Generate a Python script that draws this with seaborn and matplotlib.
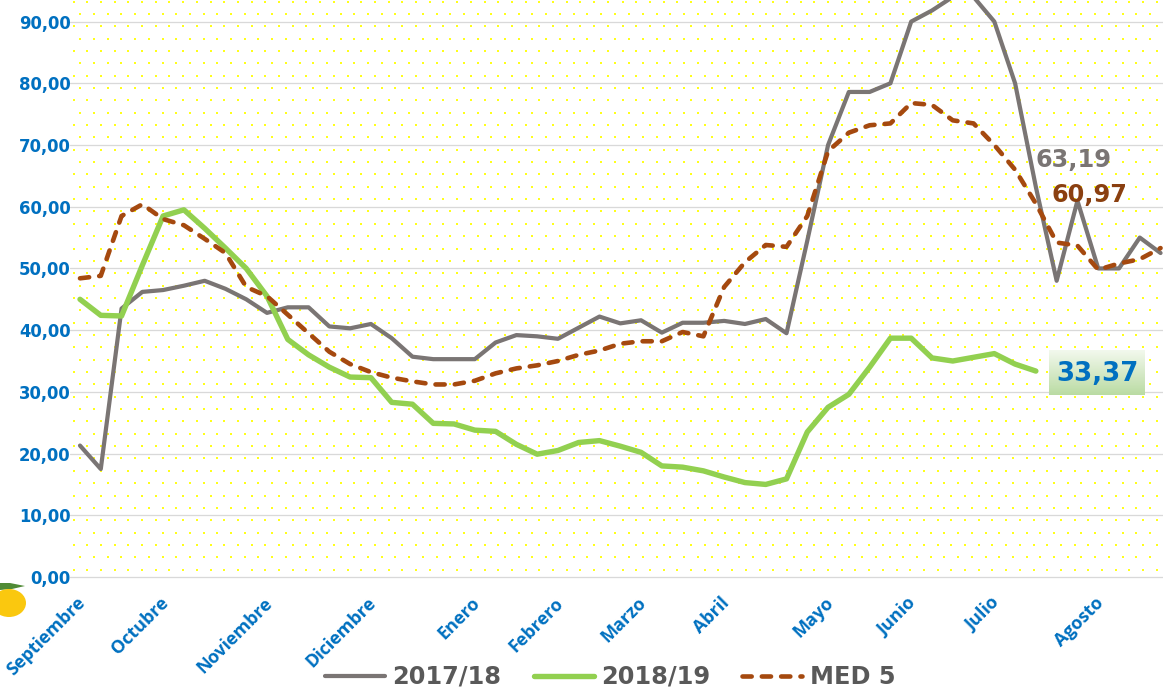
import numpy as np
import pandas as pd
import matplotlib
matplotlib.use("Agg")
import matplotlib.pyplot as plt
from matplotlib.patches import Ellipse, Polygon
from matplotlib.lines import Line2D
from matplotlib.transforms import ScaledTranslation
import seaborn as sns

s1718 = [21.3,17.5,43.5,46.2,46.5,47.2,48.0,46.7,45.0,42.8,43.7,43.7,40.6,40.3,41.0,38.7,35.7,35.3,35.3,35.3,
         38.0,39.2,39.0,38.6,40.4,42.2,41.1,41.6,39.6,41.2,41.2,41.5,41.0,41.8,39.5,54.5,70.0,78.6,78.6,80.0,
         90.0,91.8,94.0,94.0,90.0,80.0,63.19,48.0,60.97,50.0,50.0,55.0,52.5]
s1819 = [45.0,42.4,42.3,50.5,58.5,59.5,56.5,53.3,50.0,45.5,38.5,36.0,34.0,32.4,32.3,28.3,28.0,24.9,24.8,23.8,
         23.6,21.5,19.9,20.5,21.8,22.1,21.2,20.2,18.0,17.8,17.2,16.2,15.3,15.0,15.9,23.5,27.5,29.6,34.0,38.7,
         38.7,35.5,35.0,35.6,36.2,34.5,33.37]
med5 = [48.4,48.8,58.5,60.4,58.0,57.0,54.8,52.5,47.0,45.5,42.5,39.5,36.5,34.5,33.2,32.3,31.7,31.2,31.2,31.8,
        33.0,33.8,34.3,35.0,36.0,36.7,37.8,38.2,38.2,39.7,39.0,47.0,51.0,53.8,53.5,58.5,69.0,72.0,73.2,73.5,
        76.8,76.5,74.0,73.5,70.0,66.0,60.5,54.2,53.7,49.8,50.8,51.5,53.3]
months = ["Septiembre","Octubre","Noviembre","Diciembre","Enero","Febrero","Marzo","Abril","Mayo","Junio","Julio","Agosto"]
month_idx = [0,4,9,14,19,23,27,31,36,40,44,49]
yticks = [0,10,20,30,40,50,60,70,80,90]

GREY, GREEN, BROWN, BLUE = "#7a7574", "#92d050", "#a5490f", "#0070c0"
W, H = 1163, 689
STEP = 20.78
DASH = (0,(2.0,2.2))
sns.set_theme(style="white")
plt.rcParams["font.family"] = ["Open Sans", "DejaVu Sans"]

fig = plt.figure(figsize=(W/72, H/72), dpi=72, facecolor="white")
ax = fig.add_axes([69.6/W, 1-577/H, (W-69.6)/W, 577/H])
ax.set_xlim(-0.5, (W-80)/STEP)
ax.set_ylim(0, 93.5)
ax.set_facecolor("white")

# dotted yellow background texture
ph, pw = 577, W-70
tex = np.ones((ph,pw,3))
for r, y in enumerate(np.arange(1,ph,12.35)):
    for x in np.arange(3 + (6.85 if r%2 else 0),pw,13.7):
        yi,xi = int(y),int(x)
        tex[yi:yi+2,xi:xi+2] = (1,1,0.1)
ax.imshow(tex,extent=ax.get_xlim()+ax.get_ylim(),aspect="auto",zorder=0,interpolation="nearest")

frame = pd.DataFrame({"i":np.arange(len(s1718)),"a":s1718,"c":med5})
frame["b"] = pd.Series(s1819)
sns.lineplot(data=frame,x="i",y="a",color=GREY,lw=4.2,ax=ax,zorder=3,solid_capstyle="round",errorbar=None)
sns.lineplot(data=frame.dropna(),x="i",y="b",color=GREEN,lw=5.4,ax=ax,zorder=4,solid_capstyle="round",errorbar=None)
sns.lineplot(data=frame,x="i",y="c",color=BROWN,lw=4.6,ax=ax,zorder=5,linestyle=DASH,dash_capstyle="round",errorbar=None)
ax.set_xlim(-0.5, (W-80)/STEP)
ax.set_ylim(0, 93.5)

for s in ax.spines.values():
    s.set_visible(False)
ax.set_xlabel(""); ax.set_ylabel("")
ax.set_yticks(yticks)
ax.set_yticklabels([f"{v},00" for v in yticks],color=BLUE,fontweight="bold",fontsize=16.5,family="DejaVu Sans")
ax.yaxis.grid(True,color="#d9d9d9",lw=1.3,zorder=1); ax.set_axisbelow(True)
for g in ax.get_ygridlines(): g.set_clip_on(False)
ax.tick_params(axis="y",length=0,pad=-1)
ax.set_xticks(month_idx)
ax.set_xticklabels(months,rotation=45,ha="right",va="top",rotation_mode="anchor",color=BLUE,fontweight="bold",fontsize=18)
ax.tick_params(axis="x",length=0,pad=17)
shift = ScaledTranslation(-4/72,0,fig.dpi_scale_trans)
for t in ax.get_xticklabels():
    t.set_transform(t.get_transform()+shift)

ax.annotate("63,19",(46,s1718[46]),xytext=(0,27),textcoords="offset points",color=GREY,fontsize=24,fontweight="bold",va="center",zorder=6,family="DejaVu Sans")
ax.annotate("60,97",(48,s1718[48]),xytext=(-26,6),textcoords="offset points",color="#8a3f10",fontsize=24,fontweight="bold",va="center",zorder=6,family="DejaVu Sans")

# gradient label box
bx = fig.add_axes([1049/W,1-395/H,96/W,45/H])
grad = np.linspace(0,1,64)[:,None,None]
top,bot = np.array([0.95,0.975,0.93]),np.array([0.73,0.86,0.64])
bx.imshow(top+(bot-top)*grad,aspect="auto")
bx.axis("off")
bx.text(0.5,0.47,"33,37",transform=bx.transAxes,color=BLUE,fontsize=26,fontweight="bold",ha="center",va="center",family="DejaVu Sans")

# lemon
ov = fig.add_axes([0,0,1,1],facecolor="none"); ov.set_xlim(0,W); ov.set_ylim(H,0); ov.axis("off")
ov.add_patch(Polygon([(0,583),(10,583),(25,586),(12,589),(0,590)],facecolor="#4f8a35",lw=0))
ov.add_patch(Ellipse((9,603),34,28,facecolor="#fac80f",lw=0))

handles = [Line2D([],[],color=GREY,lw=4.2),Line2D([],[],color=GREEN,lw=5.4),Line2D([],[],color=BROWN,lw=4.6,linestyle=DASH,dash_capstyle="round")]
fig.legend(handles,["2017/18","2018/19","MED 5"],loc="center",bbox_to_anchor=(610/W,1-677/H),ncol=3,frameon=False,
           handlelength=2.5,handletextpad=0.3,columnspacing=1.35,labelcolor="#595959",
           prop={"family":"DejaVu Sans","weight":"bold","size":24},borderpad=0)
fig.savefig("out.png",dpi=72)
